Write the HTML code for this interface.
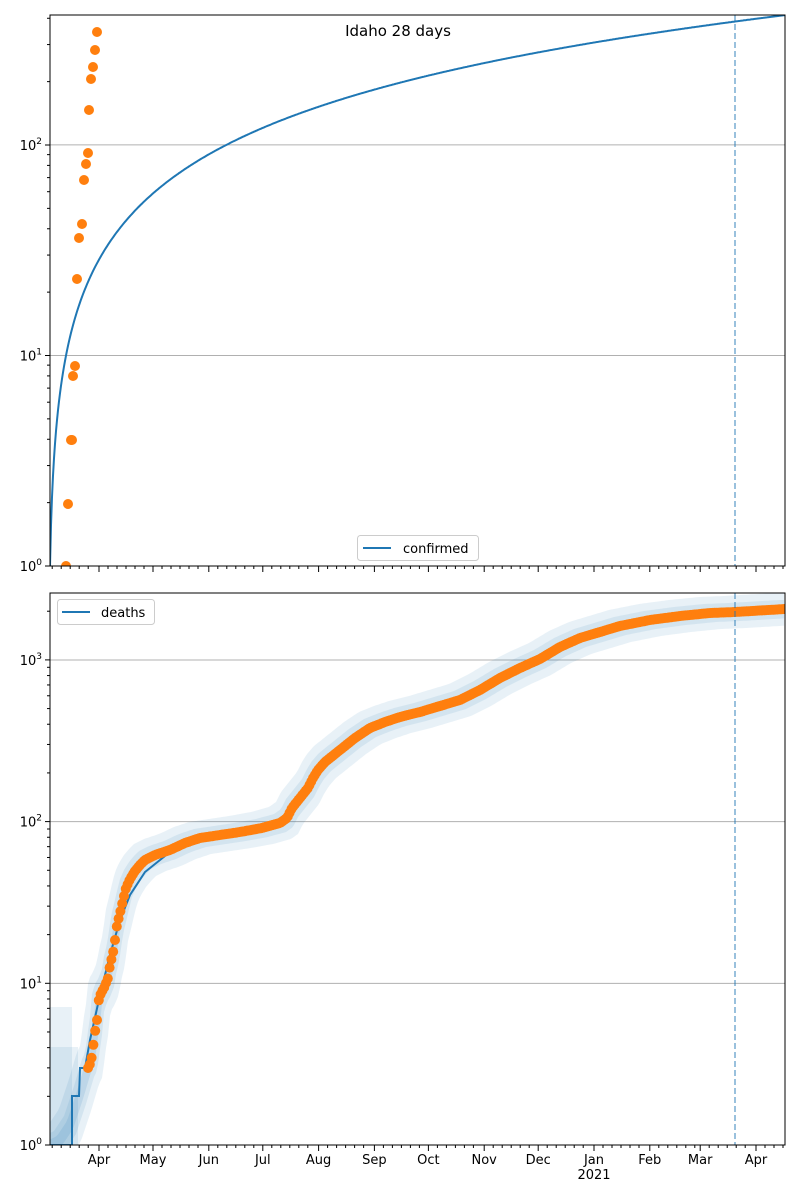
<!DOCTYPE html>
<html><head><meta charset="utf-8"><style>
body{margin:0;background:#fff;}
svg{display:block;font-family:"DejaVu Sans","Liberation Sans",sans-serif;}
</style></head><body>
<svg id="s" width="800" height="1200" xmlns="http://www.w3.org/2000/svg"></svg>
<script>
const S=document.getElementById('s');let h='';
const X0=50,X1=785;
function xd(d){return 99+d*1.8;}
const months=[['Mar',-31],['Apr',0],['May',30],['Jun',61],['Jul',91],['Aug',122],['Sep',153],['Oct',183],['Nov',214],['Dec',244],['Jan',275],['Feb',306],['Mar',334],['Apr',365]];
function axes(top,bot,decs){
  const dec=(bot-top)/decs;
  for(let k=1;k<=Math.floor(decs);k++){const y=bot-k*dec;h+=`<line x1="${X0}" x2="${X1}" y1="${y}" y2="${y}" stroke="#b0b0b0" stroke-width="1"/>`;}
}
function yticks(bot,dec,top,n){
  for(let k=0;k<=n;k++){const y=bot-k*dec; if(y<top-1)break;
    h+=`<line x1="${X0-5}" x2="${X0}" y1="${y}" y2="${y}" stroke="#000"/>`;
    h+=`<text x="${X0-8}" y="${y+5}" font-size="13" text-anchor="end">10<tspan dy="-6" font-size="9">${k}</tspan></text>`;
    for(let m=2;m<10;m++){const yy=y-Math.log10(m)*dec; if(yy<top)break; h+=`<line x1="${X0-3}" x2="${X0}" y1="${yy}" y2="${yy}" stroke="#000"/>`;}
  }
}
function xticks(bot,labels){
  months.forEach(([n,d])=>{
    [1,6,11,16,21,26].forEach((dd,i)=>{const x=xd(d+dd-1);if(x<X0||x>X1)return;
      h+=`<line x1="${x}" x2="${x}" y1="${bot}" y2="${bot+(i==0?6:3)}" stroke="#000"/>`;});
    const x=xd(d); if(labels&&x>=X0&&x<=X1){h+=`<text x="${x}" y="${bot+19}" font-size="13" text-anchor="middle">${n}</text>`;}
  });
  if(labels)h+=`<text x="${xd(275)}" y="${bot+34}" font-size="13" text-anchor="middle">2021</text>`;
}
let T=15,B=566;const dT=210.5;
h+=`<clipPath id="c1"><rect x="${X0}" y="${T}" width="${X1-X0}" height="${B-T}"/></clipPath>`;
h+=`<clipPath id="c2"><rect x="${X0}" y="593" width="${X1-X0}" height="552"/></clipPath>`;
axes(T,B,2.617);
let p='';for(let x=X0;x<=X1;x+=1){const v=1+0.562*(x-X0);p+=(x==X0?'M':'L')+x+','+(B-Math.log10(v)*dT).toFixed(1);}
h+=`<path d="${p}" fill="none" stroke="#1f77b4" stroke-width="2" clip-path="url(#c1)"/>`;
h+=`<line x1="735" x2="735" y1="${T}" y2="${B}" stroke="#1f77b4" stroke-opacity="0.6" stroke-width="1.5" stroke-dasharray="6,3"/>`;
[[66,566],[68,504],[71,440],[72,440],[73,376],[75,366],[77,279],[79,238],[82,224],[84,180],[86,164],[88,153],[89,110],[91,79],[93,67],[95,50],[97,32]].forEach(([x,y])=>h+=`<circle cx="${x}" cy="${y}" r="5" fill="#ff7f0e" clip-path="url(#c1)"/>`);
h+=`<text x="398" y="36" font-size="15" text-anchor="middle">Idaho 28 days</text>`;
h+=`<rect x="${X0}" y="${T}" width="${X1-X0}" height="${B-T}" fill="none" stroke="#000" stroke-width="1"/>`;
yticks(B,dT,T,2);xticks(B,false);
h+=`<rect x="357.5" y="535.5" width="121" height="25" rx="3" fill="#fff" fill-opacity="0.8" stroke="#ccc"/>`;
h+=`<line x1="363" x2="391" y1="548" y2="548" stroke="#1f77b4" stroke-width="2"/><text x="403" y="553" font-size="13">confirmed</text>`;
T=593;B=1145;const dB=161.7;
axes(T,B,3.414);
const pts=[[50,1145],[60,1140],[70,1125],[80,1095],[88,1068],[91,1062],[93,1048],[95,1032],[97,1020],[98,1003],[101,993],[104,988],[108,978],[110,965],[113,953],[115,940],[117,925],[120,913],[123,900],[126,888],[130,879],[135,871],[140,865],[145,860],[155,855],[170,850],[185,843],[200,838],[220,835],[240,832],[262,828],[280,823],[287,818],[292,808],[300,798],[308,788],[313,778],[318,770],[325,762],[340,750],[355,738],[370,728],[385,722],[400,717],[420,712],[440,706],[460,700],[480,690],[500,678],[520,668],[540,659],[560,647],[580,638],[600,632],[620,626],[650,620],[680,616],[710,613],[735,612],[785,609]];
function f(x){if(x<=pts[0][0])return B;for(let i=1;i<pts.length;i++){if(x<=pts[i][0]){const[a,b]=pts[i-1],[c,d]=pts[i];return b+(d-b)*(x-a)/(c-a);}}return pts[pts.length-1][1];}
function band(hh,v,op){const arr=[];
  for(let x=X0;x<=X1;x+=2)arr.push(x);
  const up=arr.map((x,i)=>(i?'L':'M')+x+','+Math.max(T,f(x+hh)-v).toFixed(1)).join('');
  const dn=arr.slice().reverse().map(x=>'L'+x+','+Math.min(B,f(x-hh)+v).toFixed(1)).join('');
  h+=`<path d="${up}${dn}Z" fill="#1f77b4" fill-opacity="${op}" clip-path="url(#c2)"/>`;}
band(11,16,0.1);band(6,9,0.1);band(3,4,0.12);
h+=`<rect x="50" y="1007" width="22" height="138" fill="#1f77b4" fill-opacity="0.1"/>`;
h+=`<rect x="50" y="1047" width="28" height="98" fill="#1f77b4" fill-opacity="0.1"/>`;
let lp='M50,1145L72,1145L72,1096L79,1096L80,1068L85,1068L90,1040L100,995L110,955L120,920L130,895L145,872L160,860';
for(let x=170;x<=X1;x+=3)lp+='L'+x+','+(f(x)+2).toFixed(1);
h+=`<path d="${lp}" fill="none" stroke="#1f77b4" stroke-width="2" clip-path="url(#c2)"/>`;
for(let x=88;x<=785;x+=1.8){h+=`<circle cx="${x.toFixed(1)}" cy="${f(x).toFixed(1)}" r="5" fill="#ff7f0e" clip-path="url(#c2)"/>`;}
h+=`<line x1="735" x2="735" y1="${T}" y2="${B}" stroke="#1f77b4" stroke-opacity="0.6" stroke-width="1.5" stroke-dasharray="6,3"/>`;
h+=`<rect x="${X0}" y="${T}" width="${X1-X0}" height="${B-T}" fill="none" stroke="#000" stroke-width="1"/>`;
yticks(B,dB,T,3);xticks(B,true);
h+=`<rect x="57.5" y="599.5" width="97" height="25" rx="3" fill="#fff" fill-opacity="0.8" stroke="#ccc"/>`;
h+=`<line x1="62" x2="90" y1="612" y2="612" stroke="#1f77b4" stroke-width="2"/><text x="101" y="617" font-size="13">deaths</text>`;
S.innerHTML=h;
</script>
</body></html>
